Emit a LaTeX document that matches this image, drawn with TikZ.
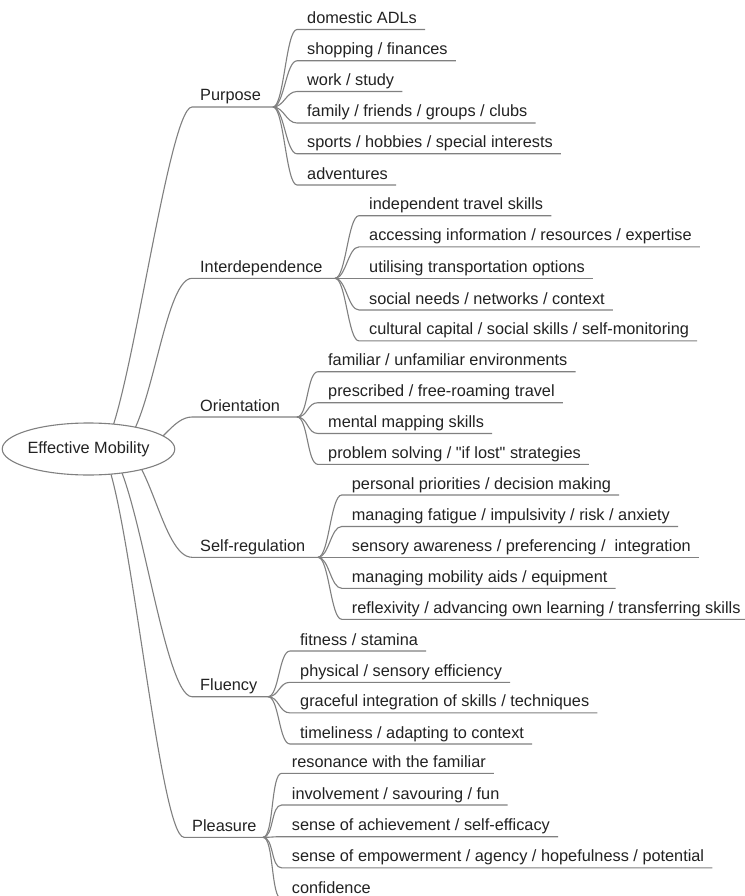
\documentclass[tikz,border=0pt]{standalone}
\usepackage{fontspec}
\setmainfont{Liberation Sans}[Ligatures=TeXOff]
\usetikzlibrary{calc,shapes.geometric}

\definecolor{ink}{HTML}{222222}
\definecolor{wirecol}{HTML}{808080}

\pgfdeclarelayer{paper}
\pgfdeclarelayer{wires}
\pgfsetlayers{paper,wires,main}

\newcommand\mapfont{\fontsize{16.3}{18}\selectfont}

\tikzset{
  labeltext/.style={font=\mapfont, text=ink, inner sep=0pt, anchor=base west},
  wire/.style={draw=wirecol, line width=1.1pt},
  hub/.style={ellipse, draw=wirecol, line width=1.1pt, fill=white,
    minimum width=153pt, minimum height=52pt, inner sep=0pt,
    font=\mapfont, text=ink},
}

% first-level topic: name, text x, underline y, fork x, label
\newcommand\topic[5]{%
  \node[labeltext] (#1) at (#2,#3-6) {#5};
  \coordinate (#1-in) at (#2-8,#3);
  \coordinate (#1-fan) at (#4,#3);
}

% second-level item: name, parent, text x, underline y, label
\newcommand\leaf[5]{%
  \node[labeltext] (#1) at (#3,#4-6) {#5};
  \coordinate (#1-in) at (#3-10,#4);
  \begin{pgfonlayer}{wires}
    \draw[wire] (#2-fan) .. controls +(11,0) and +(-11,0) .. (#1-in)
      -- ($(#1.base east)+(8,6)$);
  \end{pgfonlayer}
}

\begin{document}
\begin{tikzpicture}[x=1pt,y=-1pt]
\begin{pgfonlayer}{paper}
  \fill[white] (0,0) rectangle (744,896);
\end{pgfonlayer}
\useasboundingbox (0,0) rectangle (744,896);

% central idea
\node[hub] (root) at (88.5,449) {Effective Mobility};

% main branches
\topic{purpose}{200}{107}{273}{Purpose}
\topic{interdep}{200}{278.3}{335}{Interdependence}
\topic{orient}{200}{417}{297}{Orientation}
\topic{selfreg}{200}{557.3}{318}{Self-regulation}
\topic{fluency}{200}{696.7}{268}{Fluency}
\topic{pleasure}{192}{837.3}{263}{Pleasure}

% starting points of the main branches, hidden under the ellipse
\coordinate (r-purpose) at (100,449);
\coordinate (r-interdep) at (115,449);
\coordinate (r-orient) at (140,449);
\coordinate (r-selfreg) at (120,449);
\coordinate (r-fluency) at (105,449);
\coordinate (r-pleasure) at (98,449);

\begin{pgfonlayer}{wires}
  \draw[wire] (r-purpose) .. controls +(25,0) and +(-25,0) .. (purpose-in) -- (purpose-fan);
  \draw[wire] (r-interdep) .. controls +(35,0) and +(-30,0) .. (interdep-in) -- (interdep-fan);
  \draw[wire] (r-orient) .. controls +(20,0) and +(-20,0) .. (orient-in) -- (orient-fan);
  \draw[wire] (r-selfreg) .. controls +(30,0) and +(-30,0) .. (selfreg-in) -- (selfreg-fan);
  \draw[wire] (r-fluency) .. controls +(30,0) and +(-30,0) .. (fluency-in) -- (fluency-fan);
  \draw[wire] (r-pleasure) .. controls +(27,0) and +(-26,0) .. (pleasure-in) -- (pleasure-fan);
\end{pgfonlayer}

% Purpose
\leaf{pu1}{purpose}{307}{29.5}{domestic ADLs}
\leaf{pu2}{purpose}{307}{60.8}{shopping / finances}
\leaf{pu3}{purpose}{307}{91.5}{work / study}
\leaf{pu4}{purpose}{307}{123}{family / friends / groups / clubs}
\leaf{pu5}{purpose}{307}{153.8}{sports / hobbies / special interests}
\leaf{pu6}{purpose}{307}{185}{adventures}

% Interdependence
\leaf{in1}{interdep}{369}{215.7}{independent travel skills}
\leaf{in2}{interdep}{369}{246.9}{accessing information / resources / expertise}
\leaf{in3}{interdep}{369}{278.3}{utilising transportation options}
\leaf{in4}{interdep}{369}{310}{social needs / networks / context}
\leaf{in5}{interdep}{369}{340.9}{cultural capital / social skills / self-monitoring}

% Orientation
\leaf{or1}{orient}{328}{371.7}{familiar / unfamiliar environments}
\leaf{or2}{orient}{328}{402.7}{prescribed / free-roaming travel}
\leaf{or3}{orient}{328}{433.5}{mental mapping skills}
\leaf{or4}{orient}{328}{464.4}{problem solving / "if lost" strategies}

% Self-regulation
\leaf{sr1}{selfreg}{351.7}{495}{personal priorities / decision making}
\leaf{sr2}{selfreg}{351.7}{526.5}{managing fatigue / impulsivity / risk / anxiety}
\leaf{sr3}{selfreg}{351.7}{557.3}{sensory awareness / preferencing / \ integration}
\leaf{sr4}{selfreg}{351.7}{588.3}{managing mobility aids / equipment}
\leaf{sr5}{selfreg}{351.7}{619.3}{reflexivity / advancing own learning / transferring skills}

% Fluency
\leaf{fl1}{fluency}{300}{651}{fitness / stamina}
\leaf{fl2}{fluency}{300}{682.3}{physical / sensory efficiency}
\leaf{fl3}{fluency}{300}{712.9}{graceful integration of skills / techniques}
\leaf{fl4}{fluency}{300}{744}{timeliness / adapting to context}

% Pleasure
\leaf{pl1}{pleasure}{291.7}{773.3}{resonance with the familiar}
\leaf{pl2}{pleasure}{291.7}{805}{involvement / savouring / fun}
\leaf{pl3}{pleasure}{291.7}{836.7}{sense of achievement / self-efficacy}
\leaf{pl4}{pleasure}{291.7}{867.9}{sense of empowerment / agency / hopefulness / potential}
\leaf{pl5}{pleasure}{291.7}{899}{confidence}

\end{tikzpicture}
\end{document}
